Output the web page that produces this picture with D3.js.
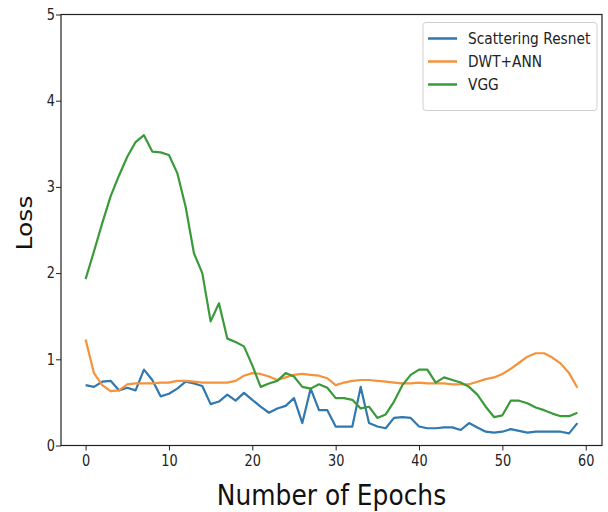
<!DOCTYPE html>
<html>
<head>
<meta charset="utf-8">
<script src="https://cdn.jsdelivr.net/npm/d3@7"></script>
<style>
  body { margin: 0; background: #fff; }
  text { font-family: "DejaVu Sans", sans-serif; }
</style>
</head>
<body>
<div id="chart"></div>
<script>

// values
var epochs = d3.range(60);

var scatteringResnet = [0.70, 0.68, 0.74, 0.75, 0.64, 0.67, 0.64, 0.88, 0.76, 0.57,
  0.60, 0.66, 0.74, 0.72, 0.69, 0.48, 0.51, 0.59, 0.52, 0.61,
  0.53, 0.45, 0.38, 0.43, 0.46, 0.55, 0.26, 0.66, 0.41, 0.41,
  0.22, 0.22, 0.22, 0.68, 0.26, 0.22, 0.20, 0.32, 0.33, 0.32,
  0.22, 0.20, 0.20, 0.21, 0.21, 0.18, 0.26, 0.21, 0.16, 0.15,
  0.16, 0.19, 0.17, 0.15, 0.16, 0.16, 0.16, 0.16, 0.14, 0.26];

var dwtAnn = [1.23, 0.84, 0.70, 0.63, 0.64, 0.71, 0.72, 0.72, 0.72, 0.73,
  0.73, 0.75, 0.75, 0.74, 0.73, 0.73, 0.73, 0.73, 0.75, 0.81,
  0.84, 0.83, 0.80, 0.76, 0.79, 0.82, 0.83, 0.82, 0.81, 0.78,
  0.70, 0.73, 0.75, 0.76, 0.76, 0.75, 0.74, 0.73, 0.72, 0.72,
  0.73, 0.72, 0.72, 0.72, 0.71, 0.71, 0.71, 0.74, 0.77, 0.79,
  0.83, 0.89, 0.96, 1.03, 1.07, 1.07, 1.02, 0.95, 0.84, 0.67];

var vgg = [1.93, 2.25, 2.58, 2.89, 3.13, 3.35, 3.52, 3.60, 3.41, 3.40,
  3.37, 3.16, 2.77, 2.23, 2.00, 1.44, 1.65, 1.24, 1.20, 1.15,
  0.93, 0.68, 0.72, 0.75, 0.84, 0.80, 0.68, 0.66, 0.71, 0.67,
  0.55, 0.55, 0.53, 0.43, 0.45, 0.32, 0.36, 0.51, 0.70, 0.82,
  0.88, 0.88, 0.73, 0.79, 0.76, 0.73, 0.68, 0.59, 0.45, 0.33,
  0.35, 0.52, 0.52, 0.49, 0.44, 0.41, 0.37, 0.34, 0.34, 0.38];

var seriesNames = ["Scattering Resnet", "DWT+ANN", "VGG"];
var seriesColors = ["#2f78b0", "#f5923a", "#3a9a3a"];
var xTicks = [0, 10, 20, 30, 40, 50, 60];
var yTicks = [0, 1, 2, 3, 4, 5];

// the picture is squeezed sideways, so horizontal text gets narrowed
var squeeze = "scale(0.86,1)";

// set the dimensions and margins of the graph
var margin = {top: 14.5, right: 6, bottom: 66.5, left: 61},
    width = 608 - margin.left - margin.right,
    height = 512 - margin.top - margin.bottom;

var svg = d3.select("#chart")
    .append("svg")
    .attr("width", 608)
    .attr("height", 512)
    .append("g")
    .attr("transform", "translate(" + margin.left + "," + margin.top + ")");

// x scale with the 5% padding matplotlib adds
var x = d3.scaleLinear()
    .domain([-2.95, 61.95])
    .range([0, width]);

var y = d3.scaleLinear()
    .domain([0, 5])
    .range([height, 0]);

// axes
var xAxis = svg.append("g")
    .attr("transform", "translate(0," + height + ")")
    .call(d3.axisBottom(x).tickValues(xTicks).tickFormat(d3.format("d")).tickSize(5).tickPadding(5));
xAxis.select(".domain").remove();
xAxis.selectAll("text").style("font-size", "15px").attr("fill", "#222").attr("transform", squeeze);
xAxis.selectAll("line").attr("stroke", "#222");

var yAxis = svg.append("g")
    .call(d3.axisLeft(y).tickValues(yTicks).tickFormat(d3.format("d")).tickSize(5).tickPadding(2));
yAxis.select(".domain").remove();
yAxis.selectAll("text").style("font-size", "15px").attr("fill", "#222").attr("transform", squeeze);
yAxis.selectAll("line").attr("stroke", "#222");

// frame
svg.append("rect")
    .attr("x", 0)
    .attr("y", 0)
    .attr("width", width)
    .attr("height", height)
    .attr("fill", "none")
    .attr("stroke", "#222")
    .attr("stroke-width", 1.2);

// lines
var allSeries = [scatteringResnet, dwtAnn, vgg];

var line = d3.line()
    .x(function(d, i) { return x(epochs[i]); })
    .y(function(d) { return y(d); });

allSeries.forEach(function(s, k) {
  svg.append("path")
      .datum(s)
      .attr("fill", "none")
      .attr("stroke", seriesColors[k])
      .attr("stroke-width", 2.2)
      .attr("stroke-linejoin", "round")
      .attr("d", line);
});

// axis labels
svg.append("text")
    .attr("transform", "translate(" + (width / 2) + "," + (height + 59) + ")" + squeeze)
    .attr("text-anchor", "middle")
    .style("font-size", "29px")
    .attr("fill", "#111")
    .text("Number of Epochs");

svg.append("text")
    .attr("transform", "translate(-29," + (height / 2 - 7) + ") scale(0.86,1) rotate(-90)")
    .attr("text-anchor", "middle")
    .style("font-size", "25px")
    .attr("fill", "#111")
    .text("Loss");

// legend
var legend = svg.append("g")
    .attr("transform", "translate(" + (width - 179) + ",8)");

legend.append("rect")
    .attr("width", 174)
    .attr("height", 88)
    .attr("rx", 3)
    .attr("fill", "#fff")
    .attr("fill-opacity", 0.8)
    .attr("stroke", "#d0d0d0");

seriesNames.forEach(function(name, k) {
  var row = legend.append("g")
      .attr("transform", "translate(0," + (16 + k * 23) + ")");
  row.append("line")
      .attr("x1", 5)
      .attr("x2", 34)
      .attr("stroke", seriesColors[k])
      .attr("stroke-width", 2.5);
  row.append("text")
      .attr("transform", "translate(45,0)" + squeeze)
      .attr("dy", "0.35em")
      .style("font-size", "16px")
      .attr("fill", "#222")
      .text(name);
});

</script>
</body>
</html>
